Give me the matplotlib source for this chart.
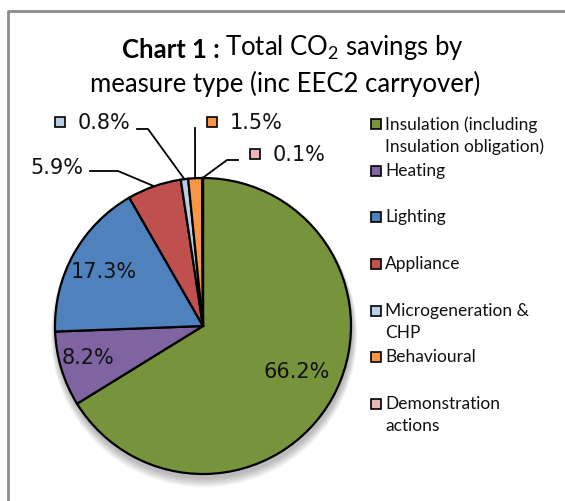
"""
Recreate Chart 1 : Total CO2 savings by measure type (pie chart)
"""

import numpy as np
import matplotlib

matplotlib.use("Agg")
import matplotlib.pyplot as plt
from matplotlib.patches import Rectangle, Circle

# data
categories = [
    "Insulation (including\nInsulation obligation)",
    "Heating",
    "Lighting",
    "Appliance",
    "Microgeneration &\nCHP",
    "Behavioural",
    "Demonstration\nactions",
]
shares = [66.2, 8.2, 17.3, 5.9, 0.8, 1.5, 0.1]
pct_labels = ["66.2%", "8.2%", "17.3%", "5.9%", "0.8%", "1.5%", "0.1%"]

# colors (office palette)
colors = ["#77933C", "#8064A2", "#4F81BD", "#C0504D", "#B9CDE5", "#F79646", "#E6B9B8"]

W, H = 565, 502
plt.rcParams["mathtext.fontset"] = "custom"
plt.rcParams["mathtext.rm"] = "Lato"
plt.rcParams["mathtext.it"] = "Lato"

fig = plt.figure(figsize=(W / 100, H / 100), dpi=100)
ax = fig.add_axes([0, 0, 1, 1])


def py(y):
    # pixel row (from top) -> data y
    return H - y


# pie
cx, cy, r = 203, py(327), 148

# soft shadow under the pie
for k in range(8):
    ax.add_patch(Circle((cx + 1, cy - 4 - k * 0.6), r + 1 + k * 0.6,
                        color="black", alpha=0.035, lw=0, zorder=2))

wedges, _ = ax.pie(
    shares,
    colors=colors,
    startangle=90,
    counterclock=False,
    center=(cx, cy),
    radius=r,
    frame=True,
    wedgeprops=dict(edgecolor="black", linewidth=1.6),
)
for w in wedges:
    w.set_zorder(3)
ax.set_xlim(0, W)
ax.set_ylim(0, H)
ax.set_aspect("equal")
ax.axis("off")

# chart border
ax.plot([W + 5, 8, 8], [py(12), py(12), -5], color="#8c8c8c", lw=2, zorder=1)

pct_font = dict(family="DejaVu Sans", fontsize=15, color="#111111", zorder=5)

# labels inside big slices (pixel centres)
inside_pos = {0: (297, 372), 1: (88, 358), 2: (104, 272)}
for i, (x, y) in inside_pos.items():
    ax.text(x, py(y), pct_labels[i], ha="center", va="center", **pct_font)

# outside labels: text left x, y, legend key?, knee point
outside = {
    3: dict(tx=30, ty=168, key=False, path=[(90, 172), (118, 172)]),
    4: dict(tx=78, ty=123, key=True, path=[(137, 130), (148, 130)]),
    5: dict(tx=230, ty=123, key=True, path=[(195, 129)]),
    6: dict(tx=273, ty=155, key=True, path=[(238, 161), (227, 161)]),
}
for i, o in outside.items():
    ax.text(o["tx"], py(o["ty"]), pct_labels[i], ha="left", va="center", **pct_font)
    if o["key"]:
        ax.add_patch(Rectangle((o["tx"] - 23, py(o["ty"]) - 5), 10, 10,
                               facecolor=colors[i], edgecolor="black", lw=1.2, zorder=5))
    w = wedges[i]
    mid = np.deg2rad((w.theta1 + w.theta2) / 2)
    ex, ey = cx + r * np.cos(mid), cy + r * np.sin(mid)
    xs = [p[0] for p in o["path"]] + [ex]
    ys = [py(p[1]) for p in o["path"]] + [ey]
    ax.plot(xs, ys, color="black", lw=1.3, zorder=4)

# legend
leg_y = [125, 172, 218, 265, 312, 358, 405]
for lab, col, y in zip(categories, colors, leg_y):
    ax.add_patch(Rectangle((371, py(y) - 5), 10, 10, facecolor=col,
                           edgecolor="black", lw=1.2, zorder=5))
    ax.text(385, py(y) + 9, lab, ha="left", va="top", family="Lato",
            fontsize=12.5, linespacing=1.45, color="#111111")

# title
t1 = ax.text(122, py(50), "Chart 1 :", ha="left", va="center", family="Lato",
             fontsize=18.5, fontweight="bold", color="black")
ax.annotate("Total CO$_2$ savings by", xy=(1, 0), xycoords=t1, xytext=(4, 0),
            textcoords="offset points", ha="left", va="bottom", family="Lato",
            fontsize=18.5, color="black")
ax.text(285, py(84), "measure type (inc EEC2 carryover)", ha="center",
        va="center", family="Lato", fontsize=18.5, color="black")

fig.savefig("out.png", dpi=100)
